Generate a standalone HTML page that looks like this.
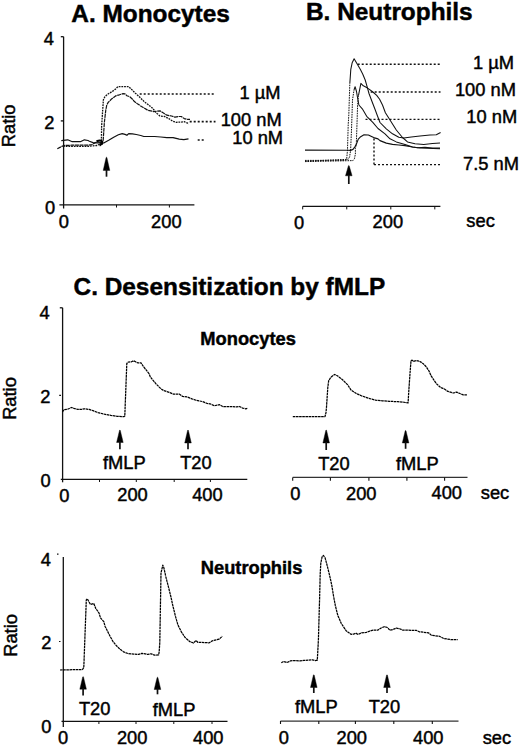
<!DOCTYPE html>
<html><head><meta charset="utf-8"><style>
html,body{margin:0;padding:0;background:#fff;overflow:hidden;}
svg{display:block;}
text{font-family:"Liberation Sans",sans-serif;fill:#000;stroke:#000;stroke-width:0.45px;}
</style></head><body>
<svg width="520" height="747" viewBox="0 0 520 747">
<rect width="520" height="747" fill="#fff"/>
<line x1="63.6" y1="36.7" x2="63.6" y2="208.5" stroke="#111" stroke-width="1.3"/>
<line x1="60.8" y1="36.7" x2="63.6" y2="36.7" stroke="#111" stroke-width="1.3"/>
<line x1="60.8" y1="120.9" x2="63.6" y2="120.9" stroke="#111" stroke-width="1.3"/>
<line x1="59.4" y1="204.8" x2="194.4" y2="204.8" stroke="#111" stroke-width="1.3"/>
<line x1="116.5" y1="204.8" x2="116.5" y2="207.5" stroke="#111" stroke-width="1"/>
<line x1="169.4" y1="204.8" x2="169.4" y2="207.5" stroke="#111" stroke-width="1"/>
<line x1="302.7" y1="206.3" x2="440.4" y2="206.3" stroke="#111" stroke-width="1.3"/>
<line x1="302.7" y1="206.3" x2="302.7" y2="209.4" stroke="#111" stroke-width="1"/>
<line x1="346.75" y1="206.3" x2="346.75" y2="209.4" stroke="#111" stroke-width="1"/>
<line x1="390.8" y1="206.3" x2="390.8" y2="209.4" stroke="#111" stroke-width="1"/>
<line x1="434.8" y1="206.3" x2="434.8" y2="209.4" stroke="#111" stroke-width="1"/>
<line x1="62.6" y1="307.8" x2="62.6" y2="482.3" stroke="#111" stroke-width="1.3"/>
<line x1="59.8" y1="307.8" x2="62.6" y2="307.8" stroke="#111" stroke-width="1.3"/>
<line x1="59.2" y1="395.3" x2="61" y2="395.3" stroke="#111" stroke-width="1.2"/>
<line x1="60.8" y1="479.3" x2="247.3" y2="479.3" stroke="#111" stroke-width="1.3"/>
<line x1="99.5" y1="479.3" x2="99.5" y2="482" stroke="#111" stroke-width="1"/>
<line x1="136.3" y1="479.3" x2="136.3" y2="482" stroke="#111" stroke-width="1"/>
<line x1="174.2" y1="479.3" x2="174.2" y2="482" stroke="#111" stroke-width="1"/>
<line x1="210.4" y1="479.3" x2="210.4" y2="482" stroke="#111" stroke-width="1"/>
<line x1="292.7" y1="477.4" x2="467.5" y2="477.4" stroke="#333" stroke-width="1.2"/>
<line x1="292.7" y1="477.4" x2="292.7" y2="480.7" stroke="#111" stroke-width="1.1"/>
<line x1="330.4" y1="477.4" x2="330.4" y2="480.7" stroke="#111" stroke-width="1.1"/>
<line x1="368.9" y1="477.4" x2="368.9" y2="480.7" stroke="#111" stroke-width="1.1"/>
<line x1="406.9" y1="477.4" x2="406.9" y2="480.7" stroke="#111" stroke-width="1.1"/>
<line x1="444.6" y1="477.4" x2="444.6" y2="480.7" stroke="#111" stroke-width="1.1"/>
<line x1="63.3" y1="557" x2="63.3" y2="727" stroke="#111" stroke-width="1.3"/>
<line x1="57" y1="554.2" x2="58.5" y2="554.2" stroke="#111" stroke-width="1.2"/>
<line x1="59" y1="641.5" x2="60.5" y2="641.5" stroke="#111" stroke-width="1.2"/>
<line x1="61.5" y1="721.3" x2="227.5" y2="721.3" stroke="#111" stroke-width="1.3"/>
<line x1="98.9" y1="721.3" x2="98.9" y2="724" stroke="#111" stroke-width="1"/>
<line x1="136" y1="721.3" x2="136" y2="724" stroke="#111" stroke-width="1"/>
<line x1="173.8" y1="721.3" x2="173.8" y2="724" stroke="#111" stroke-width="1"/>
<line x1="212" y1="721.3" x2="212" y2="724" stroke="#111" stroke-width="1"/>
<line x1="280.5" y1="721" x2="458.5" y2="721" stroke="#333" stroke-width="1.25"/>
<line x1="280.5" y1="721" x2="280.5" y2="724" stroke="#111" stroke-width="1.1"/>
<line x1="318.8" y1="721" x2="318.8" y2="724" stroke="#111" stroke-width="1.1"/>
<line x1="355.4" y1="721" x2="355.4" y2="724" stroke="#111" stroke-width="1.1"/>
<line x1="393.8" y1="721" x2="393.8" y2="724" stroke="#111" stroke-width="1.1"/>
<line x1="432.3" y1="721" x2="432.3" y2="724" stroke="#111" stroke-width="1.1"/>
<path d="M103.2,170.4 L106.1,157.5 Q106.5,156.9 106.9,157.5 L109.8,170.4 Z" fill="#000" stroke="#000" stroke-width="0.4"/><line x1="106.5" y1="169.4" x2="106.5" y2="176.7" stroke="#111" stroke-width="1.7"/>
<path d="M345.5,175.8 L348.4,165.8 Q348.8,165.2 349.2,165.8 L352.1,175.8 Z" fill="#000" stroke="#000" stroke-width="0.4"/><line x1="348.8" y1="174.8" x2="348.8" y2="184.0" stroke="#111" stroke-width="1.7"/>
<path d="M116.6,442.5 L119.5,430.4 Q119.9,429.8 120.3,430.4 L123.2,442.5 Z" fill="#000" stroke="#000" stroke-width="0.4"/><line x1="119.9" y1="441.5" x2="119.9" y2="449.3" stroke="#111" stroke-width="1.7"/>
<path d="M184.7,443.0 L187.6,430.4 Q188.0,429.8 188.4,430.4 L191.3,443.0 Z" fill="#000" stroke="#000" stroke-width="0.4"/><line x1="188" y1="442" x2="188" y2="449.3" stroke="#111" stroke-width="1.7"/>
<path d="M322.9,443.0 L325.8,430.4 Q326.2,429.8 326.6,430.4 L329.5,443.0 Z" fill="#000" stroke="#000" stroke-width="0.4"/><line x1="326.2" y1="442" x2="326.2" y2="450.0" stroke="#111" stroke-width="1.7"/>
<path d="M402.3,443.0 L405.2,430.8 Q405.6,430.2 406.0,430.8 L408.9,443.0 Z" fill="#000" stroke="#000" stroke-width="0.4"/><line x1="405.6" y1="442" x2="405.6" y2="448.8" stroke="#111" stroke-width="1.7"/>
<path d="M79.8,689.2 L82.7,676.9 Q83.1,676.3 83.5,676.9 L86.4,689.2 Z" fill="#000" stroke="#000" stroke-width="0.4"/><line x1="83.1" y1="688.2" x2="83.1" y2="695.4" stroke="#111" stroke-width="1.7"/>
<path d="M154.2,689.5 L157.1,677.5 Q157.5,676.9 157.9,677.5 L160.8,689.5 Z" fill="#000" stroke="#000" stroke-width="0.4"/><line x1="157.5" y1="688.5" x2="157.5" y2="694.3" stroke="#111" stroke-width="1.7"/>
<path d="M310.5,687.5 L313.4,675.0 Q313.8,674.4 314.2,675.0 L317.1,687.5 Z" fill="#000" stroke="#000" stroke-width="0.4"/><line x1="313.8" y1="686.5" x2="313.8" y2="693.0" stroke="#111" stroke-width="1.7"/>
<path d="M383.7,687.5 L386.6,675.0 Q387.0,674.4 387.4,675.0 L390.3,687.5 Z" fill="#000" stroke="#000" stroke-width="0.4"/><line x1="387" y1="686.5" x2="387" y2="693.0" stroke="#111" stroke-width="1.7"/>
<line x1="139.7" y1="94.0" x2="215.5" y2="94.0" stroke="#111" stroke-width="1.7" stroke-dasharray="2 2"/>
<line x1="189.7" y1="121.7" x2="215.5" y2="121.7" stroke="#111" stroke-width="1.7" stroke-dasharray="2 2"/>
<line x1="197.7" y1="139.9" x2="205.7" y2="139.9" stroke="#111" stroke-width="1.5" stroke-dasharray="2 2"/>
<polyline points="63.0,146.3 88.5,146.3 93.0,145.8 97.0,145.5 100.0,144.0 101.4,140.3 101.6,126.9 102.5,112.8 103.4,99.7 104.8,96.9 107.2,94.5 111.9,91.7 115.1,89.4 118.0,86.7 128.7,86.7 131.6,89.4 134.4,92.2 135.4,93.2 139.0,96.5 144.6,102.0 148.0,104.5 152.3,108.0 157.0,113.5 160.0,116.0 164.6,116.5 169.2,118.8 172.7,121.2 176.2,122.3 180.8,122.1 184.2,121.7 187.7,123.2 188.8,124.0" fill="none" stroke="#111" stroke-width="1.3" stroke-linejoin="round" stroke-dasharray="1.8 0.9"/>
<polyline points="57.3,148.7 63.7,145.5 72.0,145.2 88.0,145.2 92.0,144.5 97.0,141.8 101.0,142.5 102.5,144.0 103.2,140.0 104.4,122.2 105.8,110.0 106.7,105.3 108.1,102.5 111.9,98.7 115.6,95.9 119.4,94.8 123.1,93.6 125.0,93.9 126.9,95.7 129.7,96.7 132.5,99.2 134.4,101.6 137.0,103.5 141.5,106.5 147.7,110.2 153.8,111.6 160.0,110.8 163.5,113.1 166.9,115.2 171.5,116.0 175.0,117.1 178.5,116.5 181.3,116.5 184.2,118.6 187.7,119.4 190.0,119.4" fill="none" stroke="#111" stroke-width="1.2" stroke-linejoin="round" stroke-dasharray="4 0.6"/>
<polyline points="61.3,140.6 67.7,139.8 72.3,141.7 80.4,141.7 84.4,139.8 88.0,140.5 89.4,141.2 93.0,142.6 97.0,142.8 101.0,143.0 104.2,142.8 109.1,140.0 113.7,137.2 118.4,134.8 122.2,133.6 125.0,134.4 126.9,135.3 128.7,133.6 132.5,133.9 136.2,134.5 140.8,135.5 143.8,136.5 154.6,136.5 160.8,137.0 166.9,137.6 173.1,137.6 179.2,139.2 183.8,139.6 188.5,138.8" fill="none" stroke="#111" stroke-width="1.2" stroke-linejoin="round"/>
<path d="M96.5,141.3 Q100.5,139.8 102,141.5 Q102.5,144 99.5,145.5" fill="none" stroke="#000" stroke-width="2"/>
<line x1="357.7" y1="64.2" x2="440.5" y2="64.2" stroke="#111" stroke-width="1.4" stroke-dasharray="2 2"/>
<line x1="370.7" y1="92" x2="440.5" y2="92" stroke="#111" stroke-width="1.4" stroke-dasharray="2 2"/>
<line x1="365.5" y1="119.4" x2="440.5" y2="119.4" stroke="#111" stroke-width="1.4" stroke-dasharray="2 2"/>
<line x1="374" y1="138.5" x2="374" y2="164.5" stroke="#111" stroke-width="1.4" stroke-dasharray="2 2"/>
<line x1="374" y1="164.6" x2="440.5" y2="164.6" stroke="#111" stroke-width="1.4" stroke-dasharray="2 2"/>
<polyline points="305.0,160.4 345.3,160.3 346.7,158.8 347.5,150.0 348.2,125.0 348.8,115.0 349.8,83.8" fill="none" stroke="#111" stroke-width="1.0" stroke-linejoin="round" stroke-dasharray="1.6 0.9"/>
<polyline points="349.8,83.8 350.8,69.4 352.2,62.7 354.1,58.8 357.5,64.6 360.4,69.4 362.8,74.2 365.2,80.0 367.1,86.7 369.0,93.5 371.9,101.2 374.8,108.8 377.5,116.0 380.0,122.5 386.3,128.8 392.5,133.8 398.8,137.3 403.8,138.1 411.3,136.9 420.0,136.0 430.0,135.0 436.3,134.8 440.6,132.5" fill="none" stroke="#111" stroke-width="1.05" stroke-linejoin="round"/>
<polyline points="305.0,161.6 353.0,160.6 354.4,158.8 355.4,154.0 355.4,148.3 356.3,144.4 356.8,130.0 357.6,105.0 358.5,95.4" fill="none" stroke="#111" stroke-width="1.0" stroke-linejoin="round" stroke-dasharray="1.6 0.9"/>
<polyline points="358.5,95.4 360.9,83.4 363.3,85.8 366.2,87.2 369.0,89.1 372.9,92.0 376.7,95.4 379.6,99.2 382.5,105.0 385.4,112.7 390.0,120.0 396.3,130.0 402.5,137.5 407.5,141.9 415.0,143.8 423.8,144.4 432.5,143.5 440.0,143.1" fill="none" stroke="#111" stroke-width="1.05" stroke-linejoin="round"/>
<polyline points="305.0,161.2 348.2,159.3 349.6,156.9 350.6,150.2 351.5,130.0 352.5,100.0 354.0,90.0" fill="none" stroke="#111" stroke-width="1.0" stroke-linejoin="round" stroke-dasharray="1.6 0.9"/>
<polyline points="354.0,90.0 355.1,86.7 356.5,91.5 357.5,97.3 358.9,105.0 362.3,108.8 366.7,116.3 372.8,122.4 378.0,128.5 385.0,133.8 390.0,138.8 396.3,141.9 405.0,144.4 412.5,146.9 417.5,147.8 425.0,147.3 432.5,148.1 440.0,148.1" fill="none" stroke="#111" stroke-width="1.05" stroke-linejoin="round"/>
<polyline points="305.0,150.1 347.5,150.2 350.6,150.4 353.0,149.4 354.9,146.8 356.3,144.4 358.3,139.1 360.7,136.7 364.0,134.8 368.4,135.0 371.0,136.3 373.7,137.6 378.0,138.9 380.0,140.6 386.3,143.1 392.5,144.4 398.8,145.0 405.0,145.6 412.5,147.0 420.0,148.0 440.0,148.8" fill="none" stroke="#111" stroke-width="1.15" stroke-linejoin="round"/>
<polyline points="62.5,412.0 63.8,409.7 67.6,409.2 71.4,407.5 74.0,408.4 77.8,409.4 81.6,409.4 84.1,408.8 89.2,409.4 93.0,410.7 98.1,412.6 104.4,414.2 110.8,415.4 117.1,416.3 124.1,416.6 124.8,416.0 126.8,363.5 128.2,362.1 131.5,361.8 133.6,360.8 135.6,361.8 137.6,362.8 141.0,362.8 143.6,366.8 149.0,373.6 150.4,377.0 155.8,383.6 161.1,389.0 163.8,390.6 169.2,392.4 173.3,394.1 179.6,394.2 182.7,396.5 187.3,397.0 191.9,398.8 196.5,400.4 202.7,401.6 207.3,403.5 211.2,404.2 214.2,405.8 219.6,404.7 222.7,406.5 228.8,406.5 236.5,406.8 239.6,406.5 242.7,408.1 245.8,408.8 247.3,408.4" fill="none" stroke="#000" stroke-width="1.25" stroke-linejoin="round" stroke-dasharray="2.6 0.55"/>
<polyline points="292.8,416.5 325.0,416.5 326.0,412.7 326.5,407.0 327.8,387.5 328.7,380.6 330.4,378.0 332.1,376.2 334.7,374.5 337.3,375.7 342.5,379.7 347.7,384.9 351.1,390.1 356.3,393.5 361.5,395.8 368.4,398.2 375.4,400.1 382.3,400.8 389.2,401.3 397.9,401.7 402.7,402.1 405.4,402.5 408.1,402.9 408.7,392.4 410.1,372.2 411.0,360.7 412.1,360.1 413.5,361.4 416.2,360.5 419.5,361.2 422.9,363.4 426.2,366.8 428.9,370.8 431.0,375.6 433.6,379.6 436.3,383.6 440.4,387.3 444.4,389.0 447.8,391.4 450.5,392.1 453.2,393.0 456.5,392.1 459.9,393.5 463.3,394.8 467.3,394.8" fill="none" stroke="#000" stroke-width="1.25" stroke-linejoin="round" stroke-dasharray="2.6 0.55"/>
<polyline points="60.0,670.0 82.5,669.5 83.8,667.5 85.0,635.0 86.3,600.0 87.3,598.8 90.4,604.4 93.8,603.5 95.7,608.3 99.0,613.0 100.5,617.9 103.8,621.7 105.0,626.2 107.3,630.8 110.2,636.5 113.1,641.7 116.5,645.8 120.0,649.2 123.5,651.8 128.1,653.6 133.8,654.1 138.5,654.4 141.9,653.3 147.7,654.4 151.2,653.8 154.6,655.2 158.7,654.8 159.2,651.5 159.8,642.3 161.0,573.0 162.8,565.2 164.0,568.3 165.8,576.7 168.3,586.3 170.7,596.0 173.1,606.8 175.5,616.4 177.9,624.9 181.5,632.1 185.1,637.5 189.9,641.7 193.6,643.0 196.0,640.5 197.8,642.3 209.2,642.8 212.3,640.8 216.9,639.7 219.2,639.2 222.3,636.2" fill="none" stroke="#000" stroke-width="1.25" stroke-linejoin="round" stroke-dasharray="2.6 0.55"/>
<polyline points="281.3,662.8 283.7,661.5 287.0,662.5 290.4,660.9 294.2,660.6 300.0,660.9 303.8,660.4 312.5,659.9 315.4,660.6 317.3,660.2 318.4,640.0 319.6,598.2 320.2,574.1 320.8,563.3 322.0,557.2 323.3,555.4 325.1,557.8 326.9,564.5 329.3,574.1 331.7,584.9 333.5,595.8 335.3,605.4 337.7,615.1 341.3,623.5 346.1,630.7 351.0,634.3 353.5,634.2 355.8,633.1 358.1,634.5 361.5,632.8 366.2,632.5 369.6,631.1 373.1,630.2 377.7,630.2 381.2,627.9 384.6,626.7 387.5,627.5 389.8,630.2 392.7,629.6 396.2,628.2 399.6,628.7 403.1,630.2 416.2,630.3 419.2,631.8 428.5,632.8 431.5,635.4 439.2,636.2 443.8,638.5 451.5,639.7 457.7,639.7" fill="none" stroke="#000" stroke-width="1.25" stroke-linejoin="round" stroke-dasharray="2.6 0.55"/>
<text transform="translate(71.28,22.30)" font-size="24.40" font-weight="bold">A. Monocytes</text>
<text transform="translate(306.01,20.40)" font-size="24.40" font-weight="bold">B. Neutrophils</text>
<text transform="translate(73.52,294.50)" font-size="24.40" font-weight="bold">C. Desensitization by fMLP</text>
<text transform="translate(200.36,344.60)" font-size="18.30" font-weight="bold">Monocytes</text>
<text transform="translate(200.77,573.50)" font-size="18.30" font-weight="bold">Neutrophils</text>
<text transform="translate(43.82,45.10)" font-size="18.30" font-weight="normal">4</text>
<text transform="translate(44.32,129.00)" font-size="18.30" font-weight="normal">2</text>
<text transform="translate(44.95,213.60)" font-size="18.30" font-weight="normal">0</text>
<text transform="translate(58.80,228.00)" font-size="18.30" font-weight="normal">0</text>
<text transform="translate(151.08,227.90)" font-size="18.30" font-weight="normal">200</text>
<text transform="translate(15.12,147.23) rotate(-90)" font-size="18.30" font-weight="normal">Ratio</text>
<text transform="translate(239.40,98.80)" font-size="18.30" font-weight="normal">1 &#181;M</text>
<text transform="translate(220.70,125.80)" font-size="18.30" font-weight="normal">100 nM</text>
<text transform="translate(232.28,144.20)" font-size="18.30" font-weight="normal">10 nM</text>
<text transform="translate(472.95,68.90)" font-size="18.30" font-weight="normal">1 &#181;M</text>
<text transform="translate(454.90,96.20)" font-size="18.30" font-weight="normal">100 nM</text>
<text transform="translate(466.33,123.40)" font-size="18.30" font-weight="normal">10 nM</text>
<text transform="translate(463.05,169.50)" font-size="18.30" font-weight="normal">7.5 nM</text>
<text transform="translate(466.32,226.60)" font-size="18.30" font-weight="normal">sec</text>
<text transform="translate(294.00,229.00)" font-size="18.30" font-weight="normal">0</text>
<text transform="translate(372.58,228.20)" font-size="18.30" font-weight="normal">200</text>
<text transform="translate(39.57,319.00)" font-size="18.30" font-weight="normal">4</text>
<text transform="translate(40.37,403.20)" font-size="18.30" font-weight="normal">2</text>
<text transform="translate(40.60,487.30)" font-size="18.30" font-weight="normal">0</text>
<text transform="translate(16.12,419.83) rotate(-90)" font-size="18.30" font-weight="normal">Ratio</text>
<text transform="translate(59.30,501.60)" font-size="18.30" font-weight="normal">0</text>
<text transform="translate(117.23,501.40)" font-size="18.30" font-weight="normal">200</text>
<text transform="translate(192.13,501.20)" font-size="18.30" font-weight="normal">400</text>
<text transform="translate(102.93,468.50)" font-size="18.30" font-weight="normal">fMLP</text>
<text transform="translate(180.13,469.20)" font-size="18.30" font-weight="normal">T20</text>
<text transform="translate(318.18,469.60)" font-size="18.30" font-weight="normal">T20</text>
<text transform="translate(396.03,469.80)" font-size="18.30" font-weight="normal">fMLP</text>
<text transform="translate(290.20,499.60)" font-size="18.30" font-weight="normal">0</text>
<text transform="translate(345.98,500.00)" font-size="18.30" font-weight="normal">200</text>
<text transform="translate(431.53,499.40)" font-size="18.30" font-weight="normal">400</text>
<text transform="translate(480.77,499.00)" font-size="18.30" font-weight="normal">sec</text>
<text transform="translate(40.72,565.80)" font-size="18.30" font-weight="normal">4</text>
<text transform="translate(41.17,649.30)" font-size="18.30" font-weight="normal">2</text>
<text transform="translate(41.15,733.10)" font-size="18.30" font-weight="normal">0</text>
<text transform="translate(17.12,656.78) rotate(-90)" font-size="18.30" font-weight="normal">Ratio</text>
<text transform="translate(58.00,743.80)" font-size="18.30" font-weight="normal">0</text>
<text transform="translate(116.93,744.00)" font-size="18.30" font-weight="normal">200</text>
<text transform="translate(193.03,743.80)" font-size="18.30" font-weight="normal">400</text>
<text transform="translate(78.88,715.40)" font-size="18.30" font-weight="normal">T20</text>
<text transform="translate(152.73,715.50)" font-size="18.30" font-weight="normal">fMLP</text>
<text transform="translate(294.98,713.00)" font-size="18.30" font-weight="normal">fMLP</text>
<text transform="translate(368.68,712.90)" font-size="18.30" font-weight="normal">T20</text>
<text transform="translate(278.65,743.80)" font-size="18.30" font-weight="normal">0</text>
<text transform="translate(336.53,743.80)" font-size="18.30" font-weight="normal">200</text>
<text transform="translate(413.03,743.70)" font-size="18.30" font-weight="normal">400</text>
<text transform="translate(482.72,743.60)" font-size="18.30" font-weight="normal">sec</text>
</svg>
</body></html>
